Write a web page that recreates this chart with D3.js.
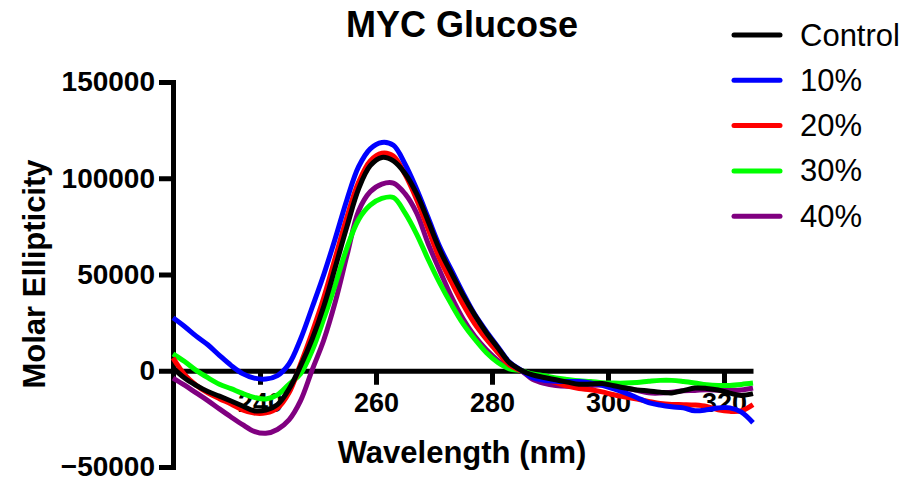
<!DOCTYPE html>
<html>
<head>
<meta charset="utf-8">
<script src="https://cdn.jsdelivr.net/npm/d3@7"></script>
<style>
  html, body { margin: 0; padding: 0; background: #fff; }
  svg { display: block; }
  text { font-family: "Liberation Sans", Arial, sans-serif; }
</style>
</head>
<body>
<svg id="chart" width="913" height="491"></svg>
<script>
// CD spectra of MYC with increasing glucose, molar ellipticity vs wavelength
const wavelengths = [225,227,229,231,233,235,237,239,241,243,245,247,249,251,253,255,257,259,261,263,265,267,269,271,273,275,277,279,281,283,285,287,289,291,293,295,297,299,301,303,305,307,309,311,313,315,317,319,321,323,325];

const control = [1500,-3800,-7600,-10800,-13200,-15700,-18300,-20800,-20400,-17600,-9500,2500,16500,33500,54000,75000,94500,106500,110800,109000,102500,92000,77700,62700,50700,39300,29000,19900,12000,4200,300,-2200,-3500,-4700,-5900,-7000,-6900,-6600,-7800,-9000,-10000,-10500,-11100,-11500,-10300,-9000,-9200,-10000,-11600,-12800,-11900];
const glc10 = [27500,23000,18000,13500,8000,2800,-1500,-3800,-4300,-2500,3500,16500,33000,50000,69000,89000,106000,115300,118600,117100,107400,94400,79500,64400,52400,40400,29400,20600,12500,4500,300,-3600,-4900,-5500,-5600,-5600,-6300,-7600,-9400,-11500,-14000,-16500,-17800,-18700,-19300,-20800,-20300,-19300,-19300,-21500,-27000];
const glc20 = [6700,-2000,-7500,-11500,-14500,-17300,-20300,-22000,-21900,-19500,-11500,3500,20000,38000,59000,80000,98000,109000,113000,111500,102000,89000,73500,58000,46000,34500,24500,16500,9500,3000,0,-2800,-4500,-6200,-8000,-9200,-9900,-11000,-12500,-13600,-14700,-15900,-17000,-17500,-17600,-17800,-18500,-20300,-21100,-20800,-17600];
const glc30 = [8800,4800,200,-3600,-7000,-9300,-11800,-13800,-14700,-12500,-7000,-1500,10500,27000,45000,64000,78500,86000,89500,90000,82000,71000,57800,45500,34500,24500,16500,9500,4300,1000,0,-1600,-2600,-3700,-4500,-5200,-5600,-6200,-6400,-6400,-6100,-5500,-5000,-5000,-5600,-6400,-7300,-7700,-7600,-7100,-6400];
const glc40 = [-3800,-7500,-11500,-15500,-19800,-24000,-28000,-31500,-32500,-30500,-25500,-15500,500,16000,36000,60000,83000,93000,97000,97500,92000,82000,66000,52000,38500,27000,18000,11000,5400,1500,0,-4500,-6600,-7700,-8100,-8100,-7700,-7400,-8000,-9000,-10200,-11500,-11600,-11200,-10400,-10200,-9900,-10100,-10200,-10000,-9000];

const seriesNames = ["Control", "10%", "20%", "30%", "40%"];
const seriesColors = ["#000000", "#0000ff", "#ff0000", "#00ff00", "#800080"];
const seriesValues = [control, glc10, glc20, glc30, glc40];

const xTicks = [240, 260, 280, 300, 320];
const yTicks = [-50000, 0, 50000, 100000, 150000];

const svg = d3.select("#chart");
const font = "'Liberation Sans', Arial, sans-serif";

const x = d3.scaleLinear().domain([225, 325]).range([173, 753]);
const y = d3.scaleLinear().domain([-50000, 150000]).range([467, 82]);

// y axis
const yAxis = svg.append("g")
  .attr("transform", `translate(${x(225)},0)`)
  .call(d3.axisLeft(y).tickValues(yTicks).tickSize(14).tickSizeOuter(0).tickPadding(4).tickFormat(d3.format("d")));
yAxis.select(".domain").attr("stroke", "#000").attr("stroke-width", 5).attr("stroke-linecap", "square");
yAxis.selectAll(".tick line").attr("stroke", "#000").attr("stroke-width", 5);
yAxis.selectAll(".tick text")
  .attr("fill", "#000").attr("font-family", font).attr("font-size", 28).attr("font-weight", "bold");

// x axis sits on the zero line
const xAxis = svg.append("g")
  .attr("transform", `translate(0,${y(0)})`)
  .call(d3.axisBottom(x).tickValues(xTicks).tickSize(14).tickSizeOuter(0).tickPadding(8).tickFormat(d3.format("d")));
xAxis.select(".domain").attr("stroke", "#000").attr("stroke-width", 5);
xAxis.selectAll(".tick line").attr("stroke", "#000").attr("stroke-width", 5);
xAxis.selectAll(".tick text")
  .attr("fill", "#000").attr("font-family", font).attr("font-size", 27).attr("font-weight", "bold");

// spectra
const line = d3.line()
  .x((d, i) => x(wavelengths[i]))
  .y(d => y(d))
  .curve(d3.curveCatmullRom.alpha(0.5));

const drawOrder = [4, 3, 2, 1, 0];
drawOrder.forEach(k => {
  svg.append("path")
    .datum(seriesValues[k])
    .attr("fill", "none")
    .attr("stroke", seriesColors[k])
    .attr("stroke-width", 5)
    .attr("stroke-linejoin", "round")
    .attr("d", line);
});

// titles
svg.append("text")
  .attr("x", 462).attr("y", 37)
  .attr("text-anchor", "middle")
  .attr("font-family", font).attr("font-size", 36).attr("font-weight", "bold")
  .text("MYC Glucose");

svg.append("text")
  .attr("x", 462).attr("y", 463)
  .attr("text-anchor", "middle")
  .attr("font-family", font).attr("font-size", 31).attr("font-weight", "bold")
  .text("Wavelength (nm)");

svg.append("text")
  .attr("transform", "translate(45,274) rotate(-90)")
  .attr("text-anchor", "middle")
  .attr("font-family", font).attr("font-size", 31).attr("font-weight", "bold")
  .text("Molar Ellipticity");

// legend
const legend = svg.append("g");
seriesNames.forEach((name, i) => {
  const ly = 35 + i * 45.3;
  legend.append("line")
    .attr("x1", 734).attr("x2", 780).attr("y1", ly).attr("y2", ly)
    .attr("stroke", seriesColors[i]).attr("stroke-width", 5).attr("stroke-linecap", "round");
  legend.append("text")
    .attr("x", 800).attr("y", ly)
    .attr("dominant-baseline", "central")
    .attr("font-family", font).attr("font-size", 31)
    .text(name);
});
</script>
</body>
</html>
